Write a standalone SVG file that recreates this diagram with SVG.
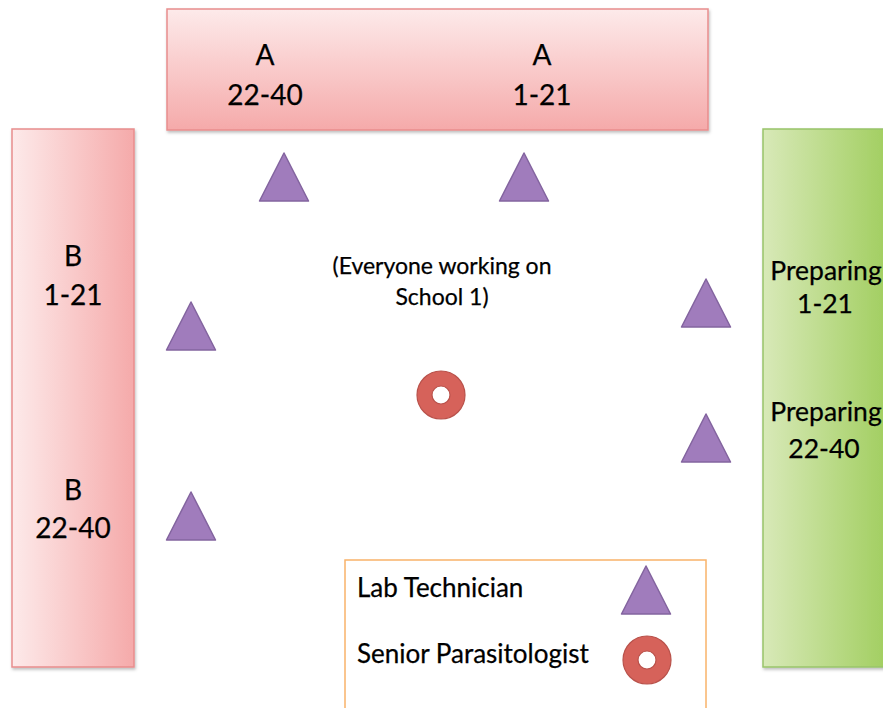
<svg xmlns="http://www.w3.org/2000/svg" width="883" height="708" viewBox="0 0 883 708">
  <style>
    .lbl { font-family: Lato, "Open Sans", "Liberation Sans", sans-serif; font-size: 28px; fill: #000; text-anchor: middle; }
    .prep { font-family: Lato, "Open Sans", "Liberation Sans", sans-serif; font-size: 26.5px; fill: #000; text-anchor: middle; }
    .note { font-family: Lato, "Open Sans", "Liberation Sans", sans-serif; font-size: 23px; fill: #000; text-anchor: middle; }
    .leg { font-family: Lato, "Open Sans", "Liberation Sans", sans-serif; font-size: 26px; fill: #000; }
    text { stroke: #000; stroke-width: 0.25; }
    .tech { fill: #a07cbc; stroke: #83649f; stroke-width: 1.5; stroke-linejoin: round; }
    .ring { fill: none; stroke: #d6625a; }
    .ringEdge { fill: none; stroke: #b9524b; stroke-width: 1.2; }
  </style>
  <defs>
    <linearGradient id="pinkV" x1="0" y1="0" x2="0" y2="1">
      <stop offset="0" stop-color="#fdeaea"/>
      <stop offset="1" stop-color="#f5aaaa"/>
    </linearGradient>
    <linearGradient id="pinkH" x1="0" y1="0" x2="1" y2="0">
      <stop offset="0" stop-color="#fdeaea"/>
      <stop offset="1" stop-color="#f5aaaa"/>
    </linearGradient>
    <linearGradient id="greenH" x1="0" y1="0" x2="1" y2="0">
      <stop offset="0" stop-color="#d8e9b8"/>
      <stop offset="1" stop-color="#9fcd5c"/>
    </linearGradient>
    <filter id="shadow" x="-10%" y="-10%" width="120%" height="120%">
      <feDropShadow dx="1" dy="2" stdDeviation="1.5" flood-color="#000" flood-opacity="0.25"/>
    </filter>
    <polygon id="tri" class="tech" points="0,-24 24.5,24 -24.5,24"/>
    <g id="sp">
      <circle r="16.5" class="ring" stroke-width="15"/>
      <circle r="24" class="ringEdge"/>
      <circle r="9" class="ringEdge"/>
    </g>
  </defs>

  <rect width="883" height="708" fill="#ffffff"/>

  <!-- Bench A -->
  <g id="benchA">
    <rect x="167" y="9" width="541" height="121" fill="url(#pinkV)" stroke="#e88d8d" stroke-width="1.5" filter="url(#shadow)"/>
    <text class="lbl" x="265" y="65">A</text>
    <text class="lbl" x="265" y="105">22-40</text>
    <text class="lbl" x="542" y="65">A</text>
    <text class="lbl" x="542" y="105">1-21</text>
  </g>

  <!-- Bench B -->
  <g id="benchB">
    <rect x="12" y="129" width="122" height="538" fill="url(#pinkH)" stroke="#e88d8d" stroke-width="1.5" filter="url(#shadow)"/>
    <text class="lbl" x="73" y="266">B</text>
    <text class="lbl" x="73" y="305">1-21</text>
    <text class="lbl" x="73" y="500">B</text>
    <text class="lbl" x="73" y="538">22-40</text>
  </g>

  <!-- Preparation bench -->
  <g id="benchPrep">
    <rect x="763" y="129" width="130" height="538" fill="url(#greenH)" stroke="#98c46a" stroke-width="1.5" filter="url(#shadow)"/>
    <text class="prep" x="826" y="280">Preparing</text>
    <text class="prep" x="825" y="313">1-21</text>
    <text class="prep" x="826" y="421">Preparing</text>
    <text class="prep" x="824" y="458">22-40</text>
  </g>

  <!-- Lab technicians -->
  <g id="technicians">
    <use href="#tri" x="284" y="177"/>
    <use href="#tri" x="524" y="177"/>
    <use href="#tri" x="191" y="326"/>
    <use href="#tri" x="191" y="516"/>
    <use href="#tri" x="706" y="303"/>
    <use href="#tri" x="706" y="438"/>
  </g>

  <!-- Senior parasitologist -->
  <g id="parasitologist">
    <use href="#sp" x="441" y="395"/>
  </g>

  <g id="note">
    <text class="note" x="442" y="274">(Everyone working on</text>
    <text class="note" x="442" y="305">School 1)</text>
  </g>

  <!-- Legend -->
  <g id="legend">
    <rect x="345" y="560" width="361" height="160" fill="#ffffff" stroke="#f9b36a" stroke-width="1.5"/>
    <text class="leg" x="357" y="597">Lab Technician</text>
    <use href="#tri" x="646" y="590"/>
    <text class="leg" x="357" y="663">Senior Parasitologist</text>
    <use href="#sp" x="647" y="660"/>
  </g>
</svg>
